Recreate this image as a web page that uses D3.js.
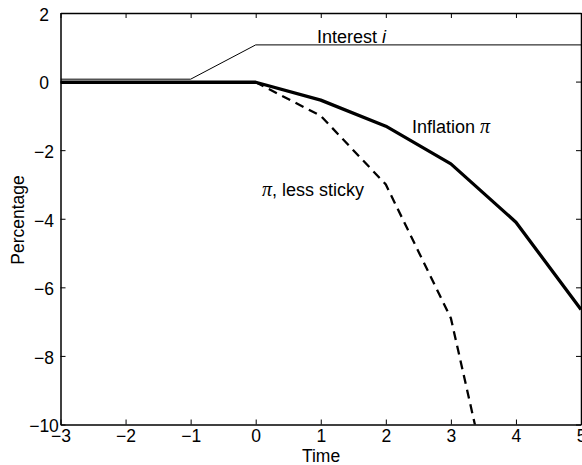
<!DOCTYPE html>
<html>
<head>
<meta charset="utf-8">
<script src="https://cdn.jsdelivr.net/npm/d3@7"></script>
<style>
  body { margin: 0; background: #fff; }
  svg { display: block; }
  text { font-family: "Liberation Sans", Arial, sans-serif; fill: #000; }
</style>
</head>
<body>
<svg id="chart" width="582" height="465"></svg>
<script>
const timeInterest = [-3, -1, 0, 5];
const interest = [0.07, 0.07, 1.07, 1.07];
const timeInflation = [-3, 0, 1, 2, 3, 4, 5];
const inflation = [-0.02, -0.02, -0.54, -1.3, -2.4, -4.1, -6.65];
const timeLessSticky = [-3, 0, 1, 2, 3, 4];
const lessSticky = [-0.02, -0.02, -1.0, -3.0, -6.9, -15.3];
const xTicks = [-3, -2, -1, 0, 1, 2, 3, 4, 5];
const yTicks = [2, 0, -2, -4, -6, -8, -10];

(function () {
const svg = d3.select("#chart");
const mLeft = 60.5, mRight = 581, mTop = 13, mBottom = 424.5;
const x = d3.scaleLinear().domain([-3, 5]).range([mLeft, mRight]);
const y = d3.scaleLinear().domain([-10, 2]).range([mBottom, mTop]);
const fmt = d => (d < 0 ? "\u2212" + Math.abs(d) : String(d));
const fs = 17.5;

svg.append("defs").append("clipPath").attr("id", "clip")
  .append("rect").attr("x", mLeft).attr("y", mTop)
  .attr("width", mRight - mLeft).attr("height", mBottom - mTop);

const tickLen = 5;
const xb = svg.append("g").attr("transform", `translate(0,${mBottom})`)
  .call(d3.axisBottom(x).tickValues(xTicks).tickFormat(fmt).tickSizeInner(-tickLen).tickSizeOuter(0).tickPadding(5));
const xt = svg.append("g").attr("transform", `translate(0,${mTop})`)
  .call(d3.axisTop(x).tickValues(xTicks).tickFormat("").tickSizeInner(-tickLen).tickSizeOuter(0));
const yl = svg.append("g").attr("transform", `translate(${mLeft},0)`)
  .call(d3.axisLeft(y).tickValues(yTicks).tickFormat(fmt).tickSizeInner(-tickLen).tickSizeOuter(0));
const yr = svg.append("g").attr("transform", `translate(${mRight},0)`)
  .call(d3.axisRight(y).tickValues(yTicks).tickFormat("").tickSizeInner(-tickLen).tickSizeOuter(0));

[xb, xt, yl, yr].forEach(g => {
  g.selectAll("path.domain").attr("stroke", "#000").attr("stroke-width", 1.5);
  g.selectAll(".tick line").attr("stroke", "#000").attr("stroke-width", 1);
  g.selectAll(".tick text").attr("font-size", fs).attr("fill", "#000")
    .attr("font-family", "'Liberation Sans', Arial, sans-serif");
});
yl.selectAll(".tick text").attr("text-anchor", "middle").attr("x", -16.5).attr("dy", "0.42em");

const plot = svg.append("g").attr("clip-path", "url(#clip)");
const line = d3.line().x(d => x(d[0])).y(d => y(d[1]));

plot.append("path")
  .datum(timeInterest.map((t, i) => [t, interest[i]]))
  .attr("d", line).attr("fill", "none").attr("stroke", "#000").attr("stroke-width", 1);

plot.append("path")
  .datum(timeLessSticky.map((t, i) => [t, lessSticky[i]]))
  .attr("d", line).attr("fill", "none").attr("stroke", "#000").attr("stroke-width", 2.3)
  .attr("stroke-dasharray", "9,6");

plot.append("path")
  .datum(timeInflation.map((t, i) => [t, inflation[i]]))
  .attr("d", line).attr("fill", "none").attr("stroke", "#000").attr("stroke-width", 3.3)
  .attr("stroke-linejoin", "round");

const afs = 18;
const serif = "'Liberation Serif', 'Times New Roman', serif";
const t1 = svg.append("text").attr("x", 317).attr("y", 43).attr("font-size", afs);
t1.append("tspan").text("Interest ");
t1.append("tspan").attr("font-style", "italic").text("i");

const t2 = svg.append("text").attr("x", 412).attr("y", 133).attr("font-size", afs);
t2.append("tspan").text("Inflation ");
t2.append("tspan").attr("font-family", serif).attr("font-style", "italic").attr("font-size", 20).text("\u03C0");

const t3 = svg.append("text").attr("x", 262).attr("y", 195.5).attr("font-size", afs);
t3.append("tspan").attr("font-family", serif).attr("font-style", "italic").attr("font-size", 20).text("\u03C0");
t3.append("tspan").text(", less sticky");

svg.append("text").attr("x", 321).attr("y", 461.5).attr("text-anchor", "middle")
  .attr("font-size", fs).text("Time");
svg.append("text").attr("transform", `translate(24,220) rotate(-90)`)
  .attr("text-anchor", "middle").attr("font-size", fs).text("Percentage");
})();
</script>
</body>
</html>
